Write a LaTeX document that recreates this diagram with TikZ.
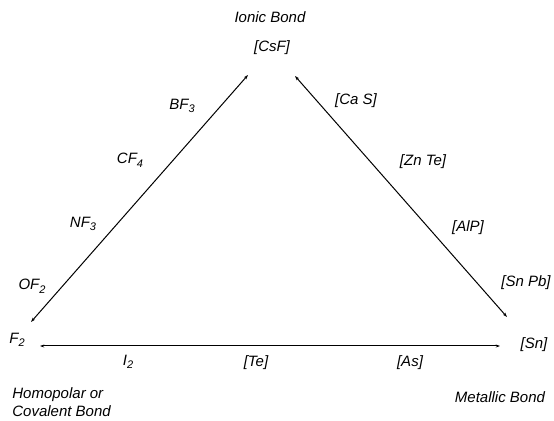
\documentclass[tikz,border=0pt]{standalone}
\usepackage{fontspec}
\setmainfont{Liberation Sans}
\usetikzlibrary{arrows.meta}
\newcommand{\lowsub}[1]{\raisebox{-0.45ex}{\fontsize{5.5}{6}\selectfont #1}}
\tikzset{
  lbl/.style={inner sep=1pt, font=\fontsize{7.5}{9}\selectfont\itshape},
  bondline/.style={line width=0.5pt, {Stealth[length=2.2pt,width=1.5pt]}-{Stealth[length=2.2pt,width=1.5pt]}}
}
\begin{document}
\begin{tikzpicture}[x=0.5pt,y=-0.5pt]
\useasboundingbox (0,0) rectangle (554,421);
\node[lbl] (ionic) at (270,17) {Ionic Bond};
\node[lbl] (csf) at (272,48) {[CsF]};
\node[lbl] (bf) at (182,106) {BF\lowsub{3}};
\node[lbl] (cf) at (130,160) {CF\lowsub{4}};
\node[lbl] (nf) at (83,224) {NF\lowsub{3}};
\node[lbl] (of) at (32,286) {OF\lowsub{2}};
\node[lbl] (ftwo) at (17,340) {F\lowsub{2}};
\node[lbl] (cas) at (356,101) {[Ca S]};
\node[lbl] (znte) at (423,162) {[Zn Te]};
\node[lbl] (alp) at (468,228) {[AlP]};
\node[lbl] (snpb) at (526,283) {[Sn Pb]};
\node[lbl] (sn) at (534,345) {[Sn]};
\node[lbl] (itwo) at (128,362) {I\lowsub{2}};
\node[lbl] (te) at (256,363) {[Te]};
\node[lbl] (as) at (410,363) {[As]};
\node[lbl, align=left, anchor=west] (covalent) at (10,402) {Homopolar or\\Covalent Bond};
\node[lbl] (metallic) at (500,397) {Metallic Bond};

\coordinate (lefttop) at (248,75);
\coordinate (leftbot) at (31,322);
\coordinate (righttop) at (295,76);
\coordinate (rightbot) at (507,317);
\coordinate (botleft) at (40,346);
\coordinate (botright) at (500,346);

\draw[bondline] (leftbot) -- (lefttop);
\draw[bondline] (righttop) -- (rightbot);
\draw[bondline] (botleft) -- (botright);
\end{tikzpicture}
\end{document}
